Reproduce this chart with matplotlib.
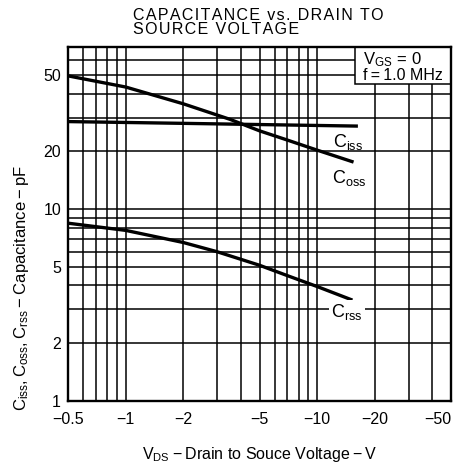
import matplotlib
matplotlib.use("Agg")
import matplotlib.pyplot as plt
from matplotlib.patches import Rectangle
import numpy as np

plt.rcParams['font.family'] = ['Liberation Sans', 'DejaVu Sans']
plt.rcParams['mathtext.fontset'] = 'custom'
plt.rcParams['mathtext.rm'] = 'Liberation Sans'
plt.rcParams['mathtext.it'] = 'Liberation Sans'

# Data (|V_DS| in volts, capacitance in pF)
ciss_v = [0.5, 2, 5, 16]
ciss_c = [28.6, 28.0, 27.6, 27.1]
coss_v = [0.5, 1, 2, 3.5, 5, 7, 10, 15.2]
coss_c = [49.5, 43.3, 35.4, 29.4, 25.6, 22.9, 20.3, 17.7]
crss_v = [0.5, 1, 2, 3, 5, 7, 10, 15]
crss_c = [8.45, 7.75, 6.7, 6.0, 5.1, 4.5, 3.95, 3.38]

x_ticks = [0.5, 1, 2, 5, 10, 20, 50]
x_tick_labels = ["\u22120.5", "\u22121", "\u22122", "\u22125", "\u221210", "\u221220", "\u221250"]
x_minor = [0.6, 0.7, 0.8, 0.9, 3, 4, 6, 7, 8, 9, 30, 40]
y_ticks = [1, 2, 5, 10, 20, 50]
y_tick_labels = ["1", "2", "5", "10", "20", "50"]
y_minor = [3, 4, 6, 7, 8, 9, 30, 40, 60]

fig = plt.figure(figsize=(4.58, 4.71), dpi=100)
ax = fig.add_axes([68/458, 70/471, 383/458, 354/471])
ax.set_xscale('log')
ax.set_yscale('log')
ax.set_xlim(0.5, 50)
ax.set_ylim(1, 70)

ax.set_xticks(x_ticks)
xl = ax.set_xticklabels(x_tick_labels, fontsize=11.5)
xl[-1].set_horizontalalignment('right')
ax.set_xticks(x_minor, minor=True)
ax.set_xticklabels([], minor=True)
ax.set_yticks(y_ticks)
ax.set_yticklabels(y_tick_labels, fontsize=11.5)
ax.set_yticks(y_minor, minor=True)
ax.set_yticklabels([], minor=True)
ax.tick_params(which='both', length=0)
ax.tick_params(axis='x', pad=8)
ax.tick_params(axis='y', pad=5)
ax.grid(True, which='both', color='black', linewidth=1.1)
ax.set_axisbelow(True)
for s in ax.spines.values():
    s.set_linewidth(1.7)
    s.set_zorder(10)

lw = 2.4
ax.plot(ciss_v, ciss_c, color='black', lw=lw, zorder=5)
ax.plot(coss_v, coss_c, color='black', lw=lw, zorder=5)
ax.plot(crss_v, crss_c, color='black', lw=lw, zorder=5)

def px_to_data(px, py):
    inv = ax.transData.inverted()
    return inv.transform((px, 471 - py))

for label, (px, py), bg in [(r"$\mathregular{C_{iss}}$", (333, 142), False),
                             (r"$\mathregular{C_{oss}}$", (332, 178), False),
                             (r"$\mathregular{C_{rss}}$", (331, 312), True)]:
    dx, dy = px_to_data(px, py)
    kw = {}
    if bg:
        kw['bbox'] = dict(facecolor='white', edgecolor='none', pad=1.5)
    ax.text(dx, dy, label, fontsize=13, ha='left', va='center', zorder=6, **kw)

# VGS box
x0 = (355 - 68) / 383
y0 = (401 - 84) / 354
ax.add_patch(Rectangle((x0, y0), 1 - x0, 1 - y0, transform=ax.transAxes,
                       facecolor='white', edgecolor='black', lw=1.1, zorder=7))
ax.text(x0 + 0.02, (401 - 60) / 354, r"$\mathregular{V_{GS}\,=\,0}$", transform=ax.transAxes,
        fontsize=12, ha='left', va='center', zorder=8)
ax.text(x0 + 0.02, (401 - 76) / 354, "f\u2009=\u20091.0 MHz", transform=ax.transAxes,
        fontsize=11.5, ha='left', va='center', zorder=8)

def spaced(s):
    return "\u200a".join(s)

fig.text(133/458, 1 - 15/471, spaced("CAPACITANCE vs. DRAIN TO"), fontsize=11.5,
         ha='left', va='center')
fig.text(133/458, 1 - 30/471, spaced("SOURCE VOLTAGE"), fontsize=11.5,
         ha='left', va='center')
fig.text(260/458, 1 - 455/471, r"$\mathregular{V_{DS}}$" + "\u2009\u2212\u2009Drain to Souce Voltage\u2009\u2212\u2009V",
         fontsize=11.5, ha='center', va='center')
fig.text(22/458, 1 - 288/471,
         r"$\mathregular{C_{iss},C_{oss},C_{rss}}$" + "\u2009\u2212\u2009Capacitance\u2009\u2212\u2009pF",
         fontsize=12, ha='center', va='center', rotation=90)

fig.savefig("out.png", dpi=100)
